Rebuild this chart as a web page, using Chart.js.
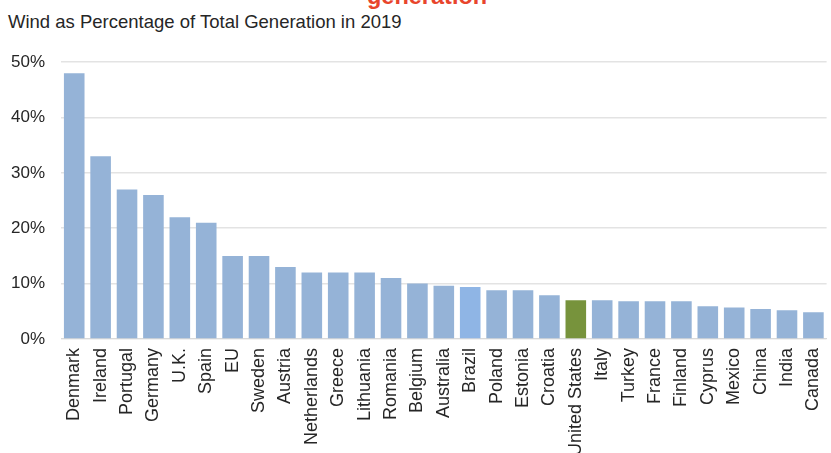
<!DOCTYPE html>
<html>
<head>
<meta charset="utf-8">
<script src="https://cdn.jsdelivr.net/npm/chart.js@4"></script>
<style>
  html, body { margin: 0; padding: 0; background: #fff; overflow: hidden; width: 831px; height: 453px; }
  #red { position: absolute; left: 367px; top: -17px; font: bold 23.5px "Liberation Sans", Arial, sans-serif; color: #e8452c; }
  #title { position: absolute; left: 8px; top: 11px; font: 18.5px "Liberation Sans", Arial, sans-serif; color: #262626; }
  #wrap { position: absolute; left: -5px; top: 36px; width: 841px; height: 421px; }
</style>
</head>
<body>
<div id="red">generation</div>
<div id="title">Wind as Percentage of Total Generation in 2019</div>
<div id="wrap"><canvas id="myChart"></canvas></div>
<script>
const paises = ['Denmark', 'Ireland', 'Portugal', 'Germany', 'U.K.', 'Spain', 'EU', 'Sweden', 'Austria',
  'Netherlands', 'Greece', 'Lithuania', 'Romania', 'Belgium', 'Australia', 'Brazil', 'Poland', 'Estonia',
  'Croatia', 'United States', 'Italy', 'Turkey', 'France', 'Finland', 'Cyprus', 'Mexico', 'China', 'India', 'Canada'];
const porcentaje = [48, 33, 27, 26, 22, 21, 15, 15, 13, 12, 12, 12, 11, 10, 9.6, 9.4, 8.8, 8.8,
  7.9, 7.0, 7.0, 6.8, 6.8, 6.8, 5.9, 5.7, 5.4, 5.2, 4.8];
const yTicks = [0, 10, 20, 30, 40, 50];

const colores = paises.map(p => p === 'United States' ? '#77933c' : (p === 'Brazil' ? '#8fb5e5' : '#95b3d7'));

const graph = document.querySelector('#myChart');
const fuente = { family: '"Liberation Sans", Arial, sans-serif', size: 17 };
const fuenteX = { family: '"Liberation Sans", Arial, sans-serif', size: 18 };

new Chart(graph, {
    type: 'bar',
    data: {
        labels: paises,
        datasets: [{
            data: porcentaje,
            backgroundColor: colores,
            barPercentage: 0.78,
            categoryPercentage: 1
        }]
    },
    options: {
        responsive: true,
        maintainAspectRatio: false,
        animation: false,
        layout: { padding: { top: 4, right: 0, left: 0, bottom: 0 } },
        plugins: {
            legend: { display: false },
            tooltip: { enabled: false }
        },
        scales: {
            x: {
                grid: { display: false },
                border: { color: '#d9d9d9', width: 1 },
                ticks: {
                    color: '#262626',
                    font: fuenteX,
                    minRotation: 90,
                    maxRotation: 90,
                    autoSkip: false,
                    padding: 1
                }
            },
            y: {
                min: 0,
                max: 50,
                afterBuildTicks: axis => { axis.ticks = yTicks.map(v => ({ value: v })); },
                grid: { color: '#e3e3e3', lineWidth: 1.5, drawTicks: false },
                border: { display: false },
                ticks: {
                    color: '#262626',
                    font: fuente,
                    padding: 16,
                    callback: v => v + '%'
                }
            }
        }
    }
});
</script>
</body>
</html>
